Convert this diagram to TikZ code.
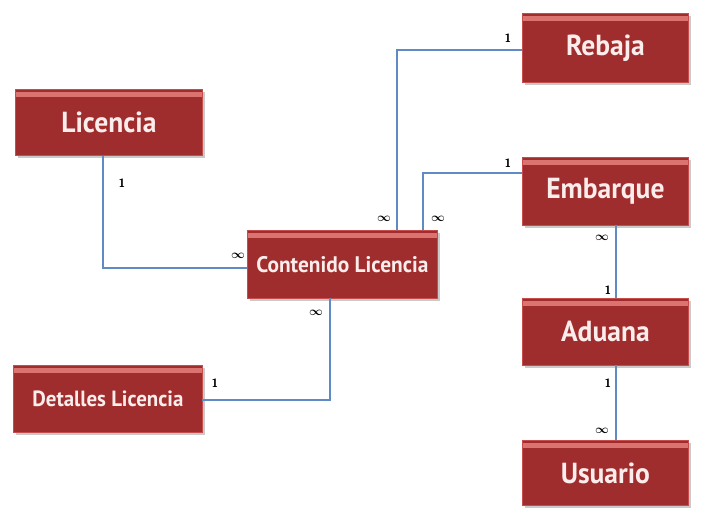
\documentclass[tikz,border=0pt]{standalone}
\usepackage{fontspec}
\newfontfamily\boxfont{PT Sans}[FakeStretch=0.95]
\usetikzlibrary{shadows}
\definecolor{boxred}{HTML}{A02D2D}
\definecolor{boxlight}{HTML}{DB7371}
\definecolor{boxedge}{HTML}{C64D4B}
\definecolor{linkblue}{HTML}{5F8AC4}
\definecolor{txtwhite}{HTML}{FBEDEC}
\tikzset{
  entity/.style={rectangle, fill=boxred, draw=boxedge, line width=0.8pt,
    text=txtwhite, font=\boxfont\bfseries\fontsize{29}{32}\selectfont,
    inner sep=0pt, anchor=north west,
    drop shadow={shadow xshift=3pt, shadow yshift=-3pt, fill=black!35, opacity=0.6},
    path picture={\fill[boxlight] ([yshift=-3pt]path picture bounding box.north west) rectangle ([yshift=-8pt]path picture bounding box.north east);}},
  link/.style={draw=linkblue, line width=2pt},
  card/.style={font=\sffamily\bfseries\boldmath\fontsize{12}{14}\selectfont, text=black, inner sep=0pt}
}
\begin{document}
\begin{tikzpicture}[x=1pt,y=-1pt]
\useasboundingbox (0,0) rectangle (701,508);
\node[entity, minimum width=187pt, minimum height=66pt] (lic) at (15,89) {Licencia};
\node[entity, minimum width=190pt, minimum height=68pt, font=\boxfont\bfseries\fontsize{22.5}{26}\selectfont] (cont) at (247,230) {Contenido Licencia};
\node[entity, minimum width=189pt, minimum height=67pt, font=\boxfont\bfseries\fontsize{22}{26}\selectfont] (det) at (13,365) {Detalles Licencia};
\node[entity, minimum width=166pt, minimum height=69pt] (reb) at (522,13) {Rebaja};
\node[entity, minimum width=166pt, minimum height=68pt] (emb) at (522,157) {Embarque};
\node[entity, minimum width=166pt, minimum height=67pt] (adu) at (522,298) {Aduana};
\node[entity, minimum width=166pt, minimum height=65pt] (usu) at (522,440) {Usuario};

\coordinate (c1) at (397,230);
\coordinate (c2) at (423,230);
\coordinate (r1) at (522,50);
\coordinate (e1) at (522,173);
\coordinate (l1) at (103,156);
\coordinate (k1) at (247,268);
\coordinate (c3) at (330,298);
\coordinate (d1) at (202,400);
\coordinate (e2) at (616,225);
\coordinate (a1) at (616,298);
\coordinate (a2) at (616,365);
\coordinate (u1) at (616,440);

\draw[link] (l1) |- (k1);
\draw[link] (c1) |- (r1);
\draw[link] (c2) |- (e1);
\draw[link] (c3) |- (d1);
\draw[link] (e2) -- (a1);
\draw[link] (a2) -- (u1);

\node[card] (n1) at (122,183) {1};
\node[card] (n2) at (238,256) {$\infty$};
\node[card] (n3) at (384,219) {$\infty$};
\node[card] (n4) at (438,219) {$\infty$};
\node[card] (n5) at (508,38) {1};
\node[card] (n6) at (508,163) {1};
\node[card] (n7) at (316,313) {$\infty$};
\node[card] (n8) at (215,383) {1};
\node[card] (n9) at (602,238) {$\infty$};
\node[card] (n10) at (608,290) {1};
\node[card] (n11) at (608,383) {1};
\node[card] (n12) at (602,431) {$\infty$};
\end{tikzpicture}
\end{document}
